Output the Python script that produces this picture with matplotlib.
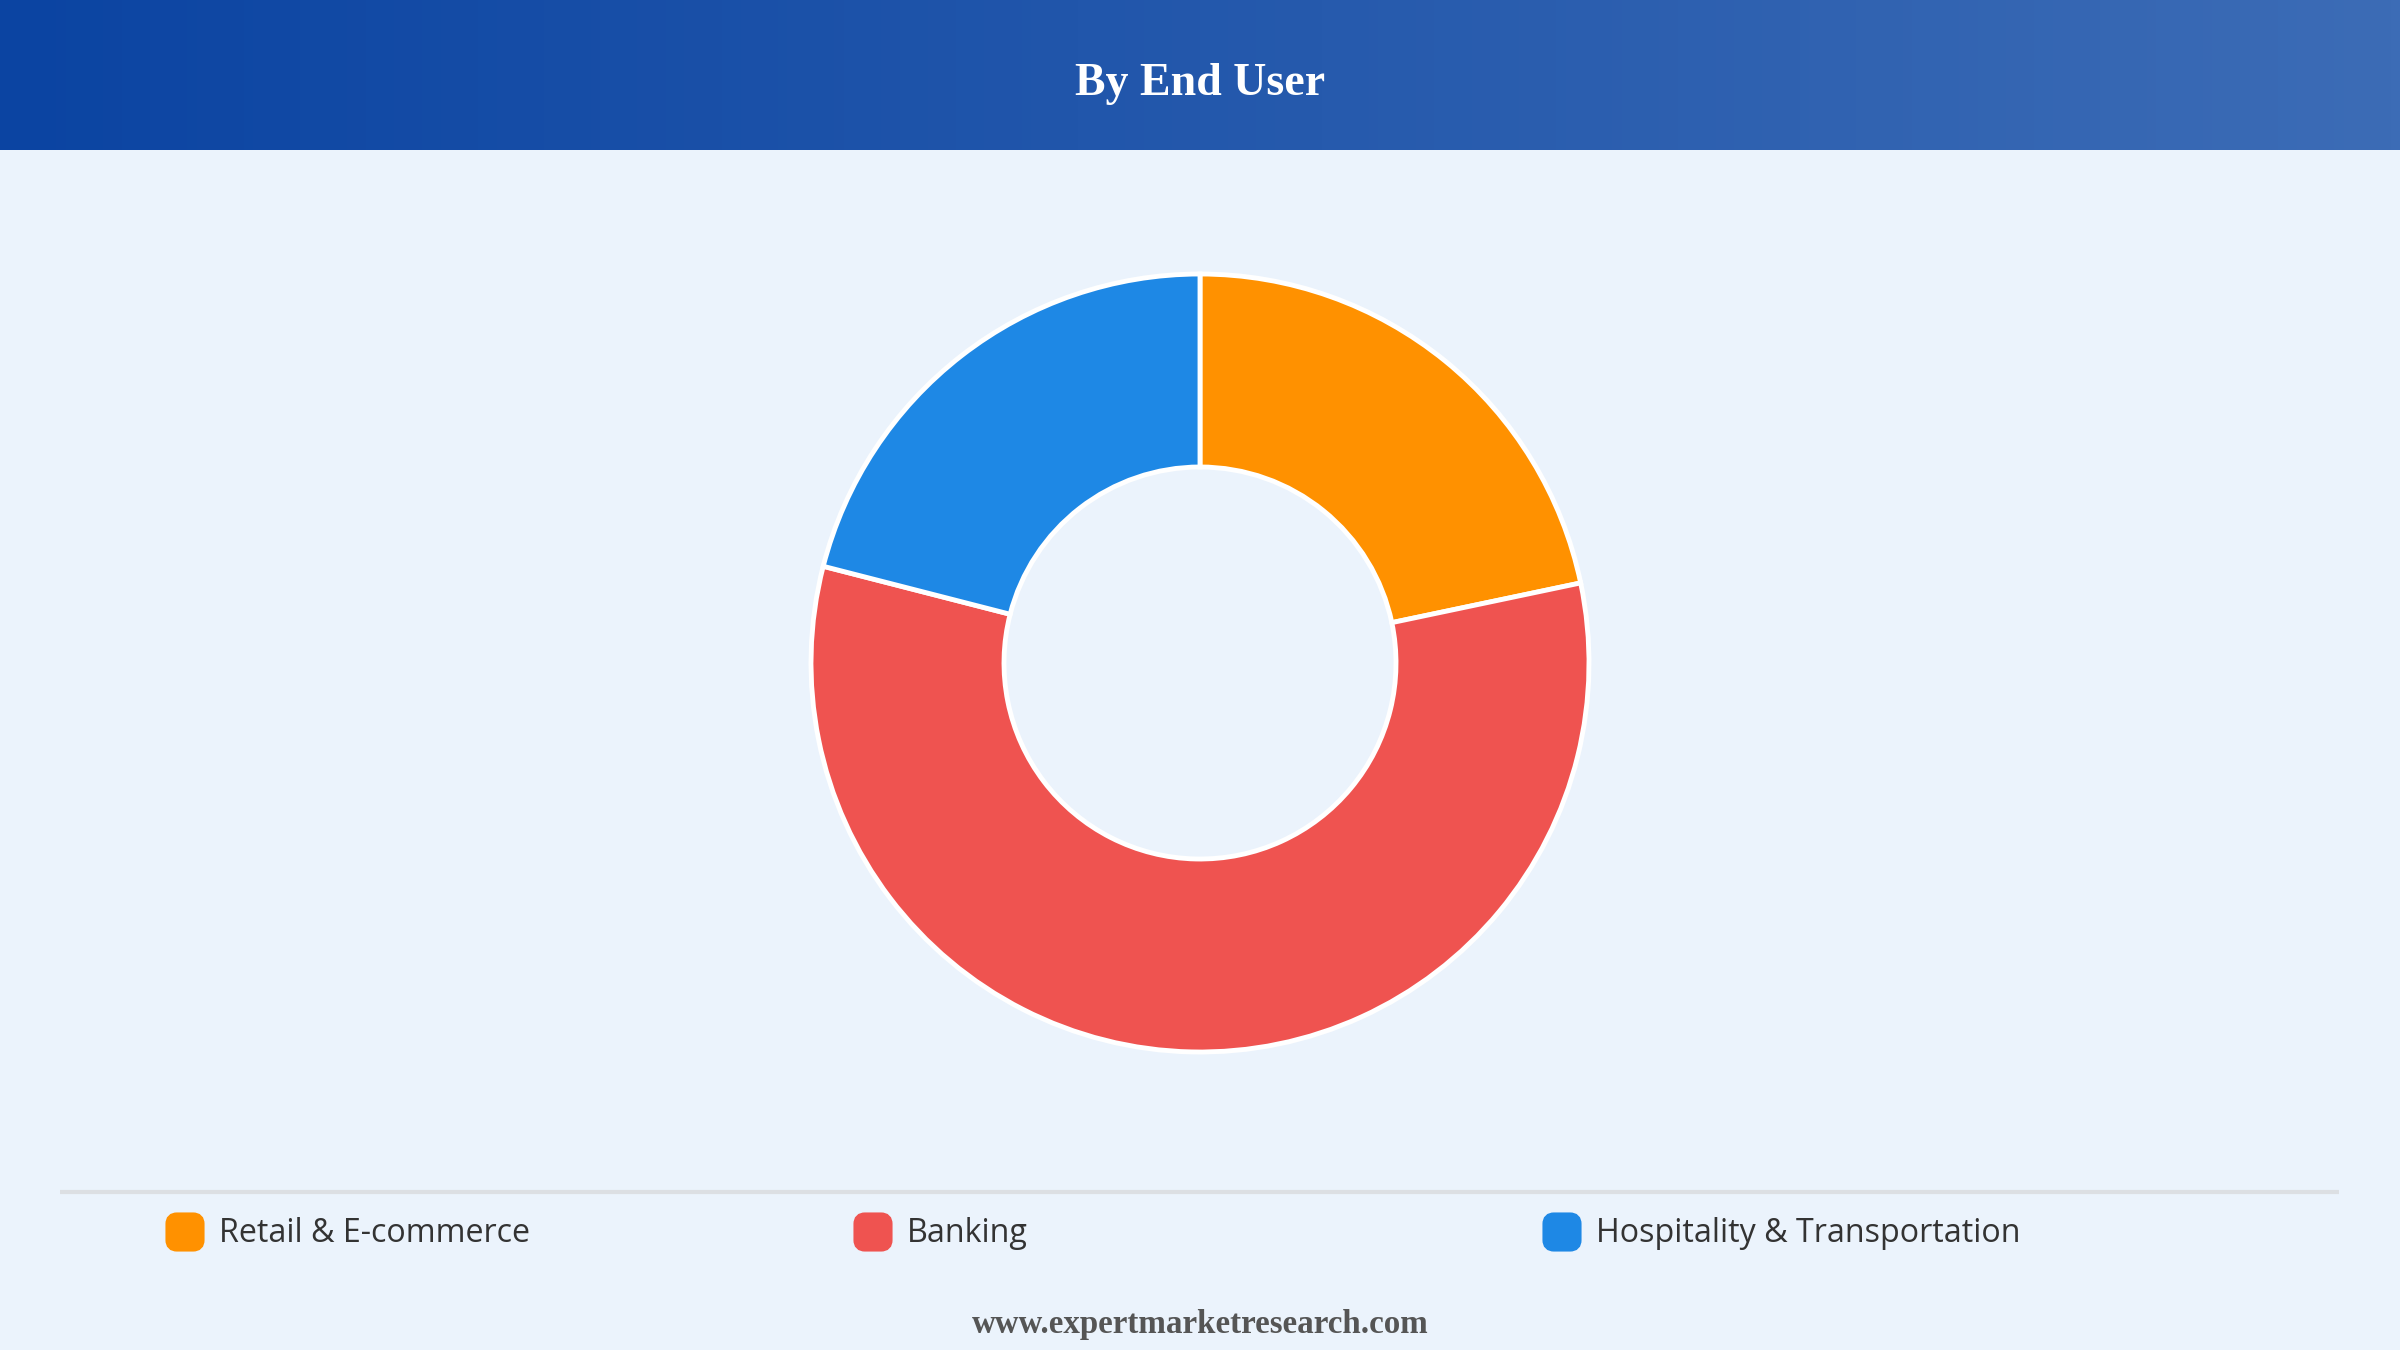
import numpy as np
import matplotlib
matplotlib.use("Agg")
import matplotlib.pyplot as plt
from matplotlib.patches import FancyBboxPatch
from matplotlib.colors import LinearSegmentedColormap

# data (share in %)
labels = ["Retail & E-commerce", "Banking", "Hospitality & Transportation"]
shares = [21.7, 57.3, 21.0]
colors = ["#FF9100", "#EF5350", "#1E88E5"]

title = "By End User"
footer = "www.expertmarketresearch.com"

W, H = 2400, 1350
fig = plt.figure(figsize=(24, 13.5), dpi=100)
fig.patch.set_facecolor("#EBF3FC")
ax = fig.add_axes([0, 0, 1, 1])

# header band with horizontal gradient
grad = LinearSegmentedColormap.from_list("hdr", ["#0B44A2", "#3C6CB6"])
ax.imshow(np.linspace(0, 1, 256).reshape(1, -1), cmap=grad, aspect="auto",
          extent=[0, W, H - 150, H], zorder=1)
ax.text(W / 2, H - 84, title, color="white", fontsize=33, fontweight="bold",
        family="Liberation Serif", ha="center", va="center", zorder=2)

# donut
ax.pie(shares, colors=colors, startangle=90, counterclock=False,
       center=(1200, H - 663), radius=389, frame=True,
       wedgeprops=dict(width=193, edgecolor="white", linewidth=3.5))
ax.set_xlim(0, W)
ax.set_ylim(0, H)
ax.set_aspect("equal")
ax.axis("off")

# separator line
ax.plot([60, 2339], [H - 1192, H - 1192], color="#DCDFE3", lw=3, zorder=2,
        solid_capstyle="butt")

# legend
xs = [167, 855, 1544]
for x, lab, c in zip(xs, labels, colors):
    ax.add_patch(FancyBboxPatch((x + 4, H - 1250 + 4), 28, 28,
                                boxstyle="round,pad=0,rounding_size=6",
                                facecolor=c, edgecolor=c, lw=8, zorder=3))
    ax.text(x + 52, H - 1234, lab, fontsize=23.2, color="#333333",
            family="Open Sans", ha="left", va="center", zorder=3)

ax.text(W / 2, H - 1324, footer, color="#555555", fontsize=23.8, fontweight="bold",
        family="Liberation Serif", ha="center", va="center", zorder=3)

fig.savefig("out.png", dpi=100, facecolor=fig.get_facecolor())
